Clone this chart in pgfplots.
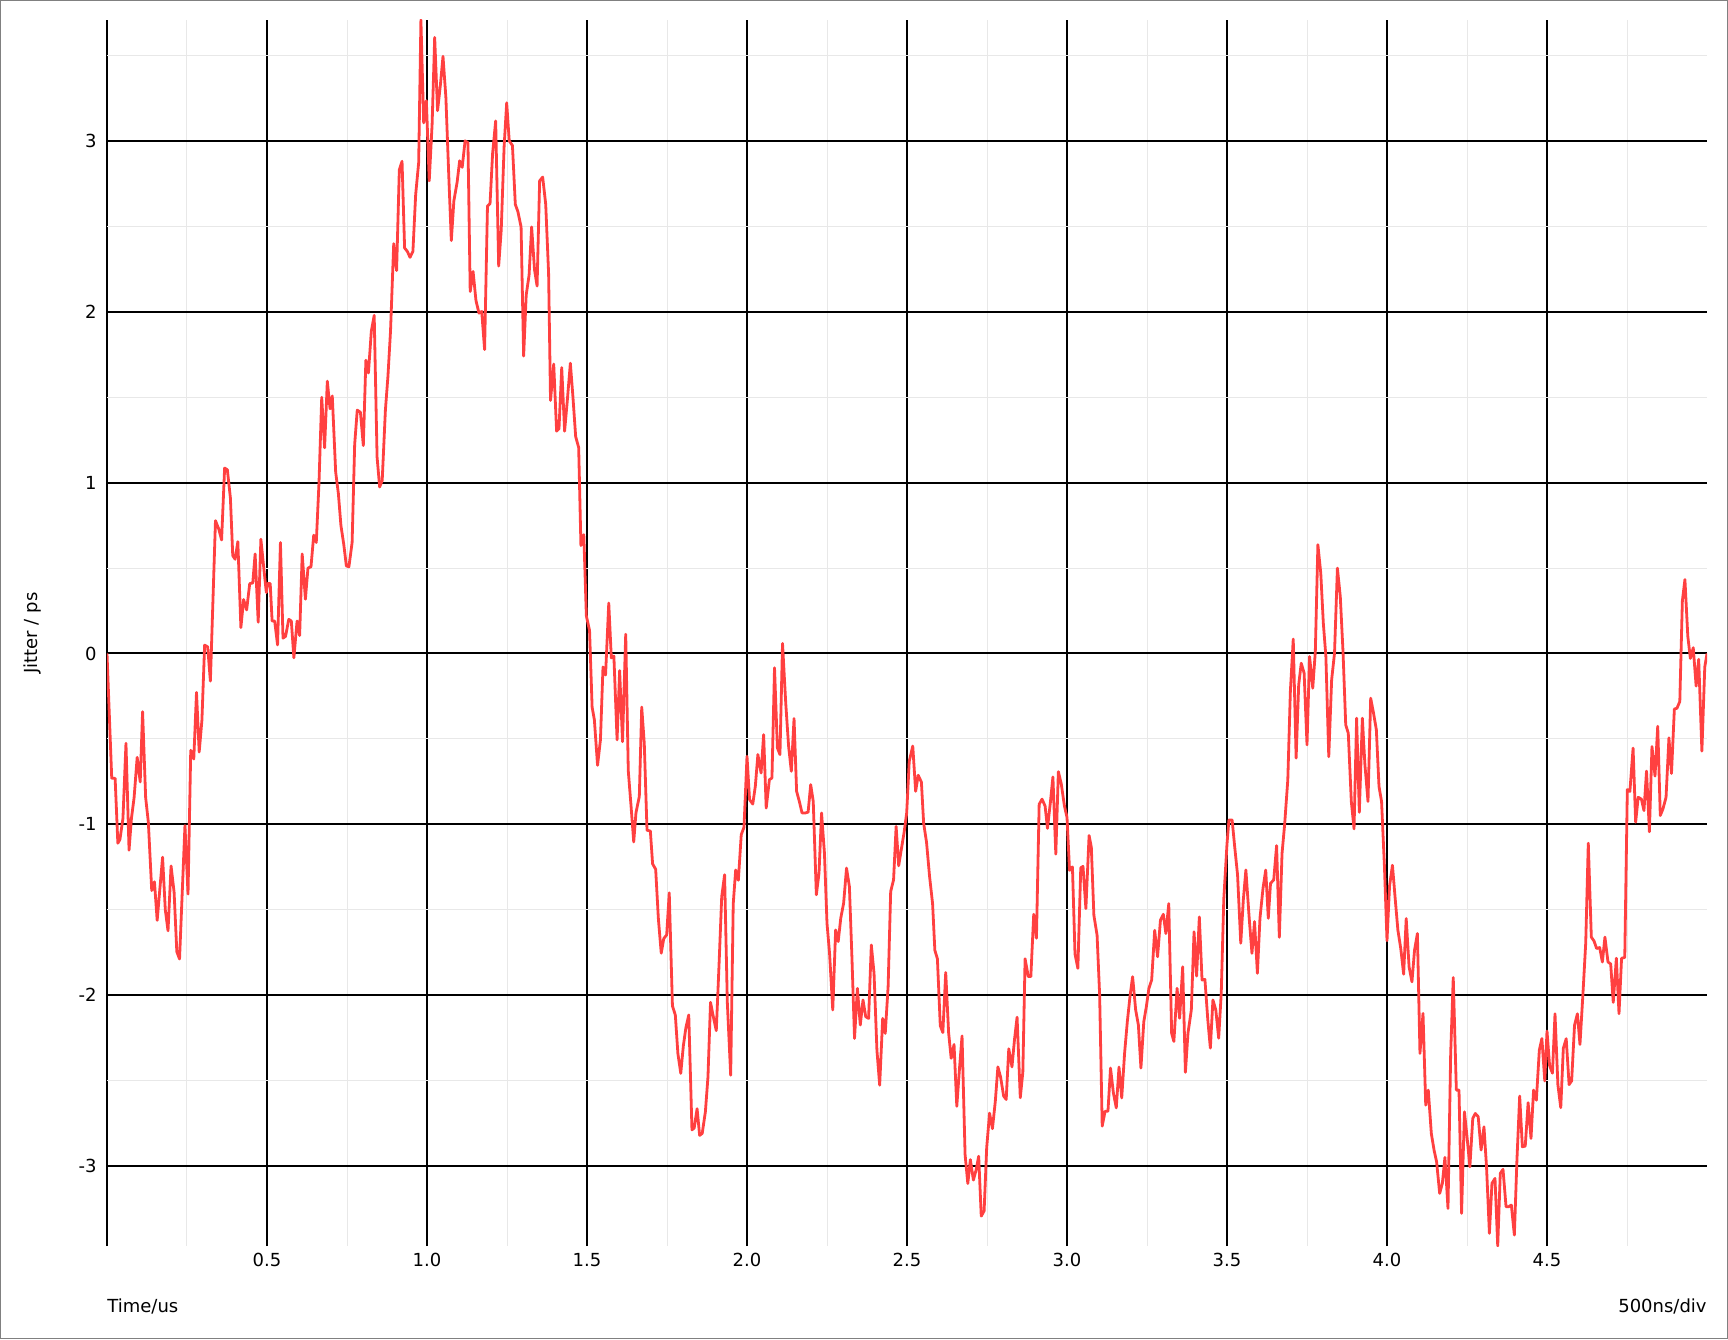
\documentclass[border=0pt]{standalone}
\usepackage{fontspec}
\setmainfont{DejaVu Sans}
\usepackage{pgfplots}
\pgfplotsset{compat=1.18}
\definecolor{jit}{RGB}{255,64,64}
\definecolor{mgrid}{RGB}{232,232,232}
\definecolor{framec}{RGB}{128,128,128}
\begin{document}
\begin{tikzpicture}
\begin{axis}[
  scale only axis, width=800pt, height=613pt,
  xmin=0, xmax=5, ymin=-3.47, ymax=3.71,
  axis line style={draw=none},
  xtick={0,0.5,1,1.5,2,2.5,3,3.5,4,4.5},
  xticklabels={,0.5,1.0,1.5,2.0,2.5,3.0,3.5,4.0,4.5},
  minor xtick={0.25,0.75,1.25,1.75,2.25,2.75,3.25,3.75,4.25,4.75},
  ytick={-3,-2,-1,0,1,2,3},
  yticklabels={-3,-2,-1,0,1,2,3},
  minor ytick={-2.5,-1.5,-0.5,0.5,1.5,2.5,3.5},
  grid=both,
  major grid style={black, line width=1pt},
  minor grid style={mgrid, line width=0.5pt},
  major tick length=0pt, minor tick length=0pt,
  tick label style={font=\fontsize{9}{11}\selectfont, inner sep=0pt},
  xticklabel style={anchor=north}, xticklabel shift=3.3pt,
  yticklabel style={anchor=east}, yticklabel shift=5pt,
  ylabel={Jitter / ps},
  ylabel style={at={(axis description cs:-0.04625,0.5)}, anchor=center, font=\fontsize{9}{11}\selectfont},
]
\addplot[jit, line width=1.4pt, line join=round, mark=none] coordinates {
(0,0) (0.0148,-0.731) (0.0254,-0.731) (0.0339,-1.111) (0.0403,-1.090) (0.0498,-0.967)
(0.0593,-0.526) (0.0689,-1.152) (0.0763,-0.967) (0.0847,-0.844) (0.0943,-0.608) (0.1038,-0.752)
(0.1112,-0.341) (0.1208,-0.844) (0.1292,-0.988) (0.1398,-1.388) (0.1483,-1.337) (0.1568,-1.563)
(0.1737,-1.193) (0.1822,-1.501) (0.1907,-1.624) (0.2002,-1.244) (0.2097,-1.398) (0.2182,-1.747)
(0.2267,-1.789) (0.2436,-1.008) (0.2532,-1.409) (0.2617,-0.567) (0.2712,-0.618) (0.2797,-0.228)
(0.2881,-0.577) (0.2966,-0.392) (0.3051,0.049) (0.3146,0.039) (0.3231,-0.162) (0.3305,0.275)
(0.3390,0.778) (0.3496,0.727) (0.3581,0.665) (0.3676,1.086) (0.3761,1.076) (0.3856,0.912)
(0.3930,0.573) (0.4004,0.552) (0.4089,0.655) (0.4184,0.152) (0.4269,0.316) (0.4364,0.255)
(0.4460,0.409) (0.4555,0.413) (0.4629,0.583) (0.4725,0.183) (0.4809,0.669) (0.4894,0.511)
(0.4979,0.357) (0.502,0.41) (0.510,0.41) (0.516,0.19) (0.524,0.19) (0.533,0.05) (0.542,0.65)
(0.550,0.09) (0.558,0.10) (0.568,0.20) (0.576,0.19) (0.584,-0.025) (0.594,0.19) (0.602,0.105)
(0.610,0.583) (0.620,0.318) (0.628,0.50) (0.6375,0.508) (0.646,0.693) (0.654,0.65) (0.6625,1.0)
(0.671,1.5) (0.680,1.205) (0.6885,1.595) (0.697,1.433) (0.704,1.508) (0.7146,1.0625) (0.723,0.9375)
(0.731,0.75) (0.740,0.6375) (0.748,0.5125) (0.756,0.508) (0.766,0.65) (0.774,1.225) (0.782,1.425)
(0.792,1.4125) (0.801,1.2175) (0.809,1.7175) (0.817,1.6425) (0.826,1.8875) (0.835,1.98) (0.844,1.15)
(0.852,0.975) (0.860,1.0125) (0.870,1.425) (0.878,1.625) (0.886,1.8875) (0.896,2.40) (0.905,2.2425)
(0.9135,2.8325) (0.922,2.8825) (0.930,2.375) (0.9385,2.355) (0.947,2.32) (0.956,2.355) (0.9646,2.6875)
(0.974,2.875) (0.981,3.71) (0.9896,3.1075) (0.998,3.2375) (1.007,2.768) (1.016,3.1) (1.024,3.608)
(1.033,3.179) (1.042,3.332) (1.050,3.497) (1.059,3.257) (1.068,2.80) (1.076,2.418) (1.084,2.651)
(1.094,2.758) (1.102,2.885) (1.110,2.847) (1.119,3.002) (1.128,2.991) (1.135,2.12) (1.144,2.237)
(1.153,2.067) (1.1625,1.993) (1.171,2.003) (1.180,1.78) (1.189,2.62) (1.197,2.634) (1.205,2.928)
(1.2146,3.119) (1.224,2.269) (1.232,2.481) (1.241,2.97) (1.249,3.225) (1.257,3.002) (1.267,2.975)
(1.276,2.63) (1.284,2.588) (1.294,2.498) (1.302,1.742) (1.310,2.099) (1.319,2.216) (1.327,2.498)
(1.336,2.248) (1.344,2.152) (1.352,2.768) (1.3615,2.79) (1.371,2.63) (1.380,2.226) (1.386,1.482)
(1.396,1.695) (1.405,1.302) (1.4125,1.317) (1.421,1.674) (1.430,1.302) (1.4385,1.482) (1.448,1.70)
(1.456,1.504) (1.4646,1.27) (1.474,1.206) (1.481,0.632) (1.490,0.696) (1.498,0.22) (1.508,0.134)
(1.516,-0.314) (1.523,-0.388) (1.533,-0.655) (1.542,-0.506) (1.550,-0.079) (1.558,-0.126) (1.568,0.295)
(1.576,-0.026) (1.584,-0.015) (1.594,-0.506) (1.602,-0.10) (1.611,-0.517) (1.621,0.113) (1.629,-0.687)
(1.6375,-0.89) (1.646,-1.104) (1.653,-0.933) (1.6635,-0.837) (1.671,-0.314) (1.679,-0.527) (1.6875,-1.035)
(1.698,-1.04) (1.705,-1.232) (1.7146,-1.264) (1.723,-1.552) (1.732,-1.755) (1.740,-1.669) (1.749,-1.648)
(1.757,-1.402) (1.767,-2.064) (1.776,-2.117) (1.784,-2.342) (1.793,-2.459) (1.801,-2.299) (1.809,-2.192)
(1.818,-2.117) (1.828,-2.79) (1.835,-2.779) (1.844,-2.666) (1.852,-2.822) (1.860,-2.811) (1.870,-2.683)
(1.878,-2.48) (1.886,-2.043) (1.896,-2.139) (1.904,-2.209) (1.9125,-1.829) (1.921,-1.424) (1.930,-1.296)
(1.9385,-2.043) (1.949,-2.47) (1.957,-1.466) (1.9646,-1.268) (1.973,-1.328) (1.982,-1.061) (1.9906,-1.018)
(2.000,-0.602) (2.008,-0.856) (2.018,-0.882) (2.026,-0.778) (2.034,-0.592) (2.044,-0.70) (2.052,-0.475)
(2.060,-0.905) (2.070,-0.739) (2.078,-0.729) (2.086,-0.084) (2.095,-0.553) (2.103,-0.592) (2.111,0.059)
(2.121,-0.289) (2.130,-0.543) (2.1385,-0.69) (2.147,-0.381) (2.155,-0.807) (2.1635,-0.866) (2.172,-0.934)
(2.182,-0.934) (2.191,-0.929) (2.199,-0.768) (2.207,-0.866) (2.2167,-1.413) (2.225,-1.286) (2.233,-0.934)
(2.242,-1.169) (2.250,-1.58) (2.258,-1.756) (2.268,-2.088) (2.277,-1.619) (2.285,-1.687) (2.293,-1.55)
(2.302,-1.462) (2.311,-1.257) (2.320,-1.365) (2.328,-1.785) (2.336,-2.254) (2.345,-1.961) (2.354,-2.176)
(2.3625,-2.029) (2.371,-2.127) (2.380,-2.137) (2.3885,-1.707) (2.397,-1.873) (2.406,-2.323) (2.4146,-2.528)
(2.424,-2.137) (2.432,-2.225) (2.441,-1.951) (2.449,-1.394) (2.458,-1.326) (2.466,-1.013) (2.474,-1.243)
(2.482,-1.15) (2.4906,-1.052) (2.499,-0.934) (2.507,-0.632) (2.518,-0.542) (2.527,-0.807) (2.535,-0.713)
(2.545,-0.753) (2.552,-0.994) (2.561,-1.105) (2.5705,-1.305) (2.580,-1.466) (2.587,-1.738) (2.595,-1.788)
(2.604,-2.18) (2.612,-2.22) (2.621,-1.868) (2.630,-2.22) (2.638,-2.371) (2.647,-2.29) (2.6556,-2.652)
(2.664,-2.431) (2.672,-2.24) (2.6815,-2.934) (2.690,-3.104) (2.698,-2.964) (2.7075,-3.084) (2.716,-3.024)
(2.724,-2.944) (2.732,-3.295) (2.741,-3.265) (2.749,-2.894) (2.758,-2.692) (2.767,-2.783) (2.776,-2.622)
(2.784,-2.421) (2.7925,-2.481) (2.802,-2.592) (2.810,-2.612) (2.818,-2.315) (2.828,-2.421) (2.836,-2.26)
(2.844,-2.13) (2.854,-2.602) (2.862,-2.451) (2.869,-1.788) (2.879,-1.892) (2.887,-1.892) (2.896,-1.527)
(2.9045,-1.667) (2.913,-0.883) (2.922,-0.853) (2.9315,-0.893) (2.939,-1.024) (2.948,-0.873) (2.956,-0.723)
(2.965,-1.175) (2.973,-0.692) (2.982,-0.763) (2.992,-0.893) (3.000,-0.96) (3.008,-1.27) (3.017,-1.25)
(3.025,-1.76) (3.034,-1.844) (3.043,-1.255) (3.050,-1.247) (3.059,-1.494) (3.069,-1.066) (3.076,-1.134)
(3.084,-1.533) (3.094,-1.65) (3.102,-2.0) (3.110,-2.768) (3.119,-2.681) (3.128,-2.681) (3.136,-2.428)
(3.145,-2.574) (3.154,-2.661) (3.1625,-2.422) (3.171,-2.603) (3.180,-2.34) (3.1885,-2.156) (3.197,-2.006)
(3.205,-1.893) (3.2146,-2.088) (3.223,-2.175) (3.231,-2.428) (3.240,-2.156) (3.248,-2.068) (3.256,-1.961)
(3.2646,-1.912) (3.274,-1.621) (3.283,-1.776) (3.292,-1.562) (3.301,-1.527) (3.309,-1.64) (3.318,-1.465)
(3.327,-2.224) (3.334,-2.272) (3.344,-1.961) (3.352,-2.136) (3.3615,-1.835) (3.370,-2.453) (3.378,-2.224)
(3.3885,-2.088) (3.397,-1.630) (3.405,-1.889) (3.4135,-1.543) (3.422,-1.912) (3.431,-1.909) (3.440,-2.146)
(3.448,-2.311) (3.456,-2.029) (3.465,-2.088) (3.474,-2.253) (3.482,-1.99) (3.490,-1.436) (3.500,-1.115)
(3.506,-0.975) (3.516,-0.975) (3.524,-1.131) (3.533,-1.297) (3.543,-1.697) (3.551,-1.443) (3.559,-1.268)
(3.569,-1.541) (3.578,-1.756) (3.586,-1.570) (3.595,-1.873) (3.603,-1.551) (3.6125,-1.375) (3.621,-1.268)
(3.629,-1.551) (3.636,-1.346) (3.646,-1.326) (3.655,-1.125) (3.6635,-1.662) (3.672,-1.17) (3.680,-1.004)
(3.690,-0.74) (3.698,-0.223) (3.707,0.084) (3.716,-0.613) (3.724,-0.184) (3.732,-0.057) (3.741,-0.115)
(3.750,-0.535) (3.758,-0.018) (3.768,-0.203) (3.776,0.012) (3.784,0.637) (3.793,0.471) (3.801,0.178)
(3.809,-0.018) (3.818,-0.604) (3.827,-0.154) (3.836,0.002) (3.845,0.50) (3.854,0.334) (3.8625,0.012)
(3.871,-0.418) (3.879,-0.467) (3.8885,-0.867) (3.897,-1.027) (3.905,-0.379) (3.9135,-0.93) (3.923,-0.379)
(3.931,-0.652) (3.9406,-0.867) (3.949,-0.262) (3.958,-0.35) (3.9667,-0.447) (3.975,-0.779) (3.983,-0.867)
(3.992,-1.248) (4.000,-1.682) (4.008,-1.36) (4.017,-1.24) (4.026,-1.445) (4.034,-1.62) (4.043,-1.728)
(4.052,-1.878) (4.060,-1.552) (4.069,-1.835) (4.078,-1.923) (4.086,-1.738) (4.095,-1.64) (4.103,-2.342)
(4.1125,-2.108) (4.121,-2.645) (4.129,-2.557) (4.1385,-2.811) (4.147,-2.908) (4.155,-2.977) (4.1646,-3.162)
(4.173,-3.103) (4.181,-2.951) (4.1906,-3.25) (4.199,-2.342) (4.207,-1.898) (4.2167,-2.557) (4.225,-2.557)
(4.233,-3.279) (4.242,-2.684) (4.25,-2.83) (4.259,-3.006) (4.268,-2.723) (4.276,-2.694) (4.285,-2.713)
(4.294,-2.908) (4.303,-2.772) (4.311,-3.006) (4.320,-3.396) (4.328,-3.103) (4.3375,-3.074) (4.346,-3.47)
(4.354,-3.045) (4.3625,-3.021) (4.372,-3.24) (4.380,-3.24) (4.3885,-3.23) (4.398,-3.406) (4.406,-2.967)
(4.4146,-2.592) (4.423,-2.889) (4.432,-2.885) (4.441,-2.631) (4.45,-2.84) (4.458,-2.557) (4.4667,-2.616)
(4.476,-2.323) (4.484,-2.255) (4.493,-2.503) (4.5,-2.211) (4.508,-2.413) (4.517,-2.458) (4.525,-2.11)
(4.534,-2.525) (4.543,-2.66) (4.551,-2.312) (4.560,-2.256) (4.569,-2.525) (4.577,-2.503) (4.586,-2.177)
(4.595,-2.11) (4.603,-2.29) (4.6125,-1.987) (4.621,-1.695) (4.629,-1.111) (4.6385,-1.661) (4.647,-1.684)
(4.655,-1.728) (4.6646,-1.722) (4.673,-1.807) (4.681,-1.661) (4.6906,-1.807) (4.699,-1.818) (4.707,-2.043)
(4.7167,-1.785) (4.725,-2.11) (4.733,-1.785) (4.743,-1.78) (4.751,-0.797) (4.759,-0.808) (4.769,-0.554)
(4.777,-0.988) (4.785,-0.842) (4.795,-0.853) (4.803,-0.92) (4.811,-0.689) (4.820,-1.044) (4.828,-0.545)
(4.8375,-0.718) (4.846,-0.426) (4.854,-0.949) (4.8625,-0.909) (4.872,-0.842) (4.881,-0.494) (4.889,-0.703)
(4.898,-0.325) (4.906,-0.321) (4.915,-0.281) (4.923,0.308) (4.931,0.433) (4.940,0.101) (4.948,-0.029)
(4.957,0.034) (4.966,-0.191) (4.974,-0.034) (4.984,-0.572) (4.993,-0.079) (5.0,0.0)
};
\coordinate (SW) at (rel axis cs:0,0);
\coordinate (NE) at (rel axis cs:1,1);
\coordinate (SE) at (rel axis cs:1,0);
\end{axis}
\node[anchor=base west, inner sep=0pt, font=\fontsize{9}{11}\selectfont] at ([yshift=-33pt]SW) {Time/us};
\node[anchor=base east, inner sep=0pt, font=\fontsize{9}{11}\selectfont] at ([yshift=-33pt]SE) {500ns/div};
\pgfresetboundingbox
\path[use as bounding box] ([shift={(-53.5pt,-46.5pt)}]SW) rectangle ([shift={(10.5pt,10pt)}]NE);
\draw[framec, line width=0.6pt] ([shift={(-53.2pt,-46.2pt)}]SW) rectangle ([shift={(10.2pt,9.7pt)}]NE);
\end{tikzpicture}
\end{document}
